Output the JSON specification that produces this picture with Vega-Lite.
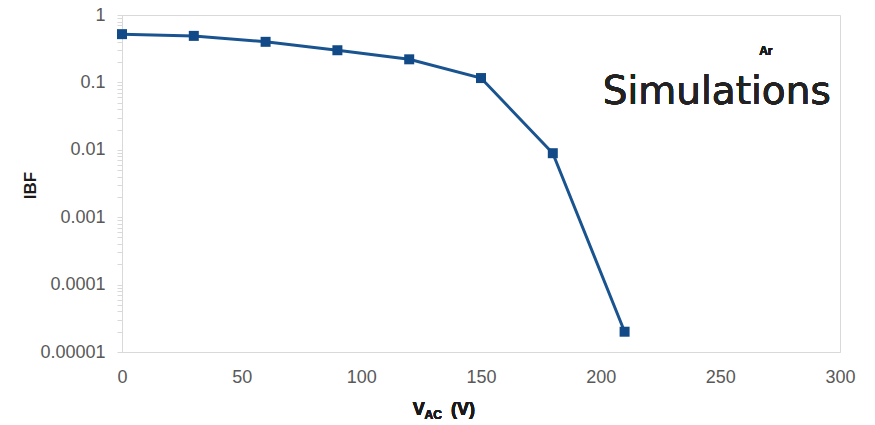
{
  "$schema": "https://vega.github.io/schema/vega-lite/v6.json",
  "width": 718,
  "height": 337,
  "autosize": "none",
  "padding": {"left": 122, "top": 15, "right": 35, "bottom": 73},
  "background": "white",
  "config": {
    "view": {"stroke": "#d9d9d9", "strokeWidth": 1},
    "font": "Liberation Sans"
  },
  "data": {
    "values": [
      {"V": 0, "IBF": 0.52},
      {"V": 30, "IBF": 0.49},
      {"V": 60, "IBF": 0.40},
      {"V": 90, "IBF": 0.30},
      {"V": 120, "IBF": 0.22},
      {"V": 150, "IBF": 0.116},
      {"V": 180, "IBF": 0.0089},
      {"V": 210, "IBF": 0.00002}
    ]
  },
  "encoding": {
    "x": {
      "field": "V", "type": "quantitative",
      "scale": {"domain": [0, 300], "nice": false},
      "axis": {
        "values": [0, 50, 100, 150, 200, 250, 300],
        "title": null, "grid": false, "ticks": false, "labelFlush": false,
        "domainColor": "#d9d9d9", "labelColor": "#595959",
        "labelFontSize": 18, "labelPadding": 16, "labelFont": "Liberation Sans"
      }
    },
    "y": {
      "field": "IBF", "type": "quantitative",
      "scale": {"type": "log", "domain": [0.00001, 1], "nice": false},
      "axis": {
        "values": [0.00001, 0.00002, 0.00003, 0.00004, 0.00005, 0.00006, 0.00007, 0.00008, 0.00009,
                   0.0001, 0.0002, 0.0003, 0.0004, 0.0005, 0.0006, 0.0007, 0.0008, 0.0009,
                   0.001, 0.002, 0.003, 0.004, 0.005, 0.006, 0.007, 0.008, 0.009,
                   0.01, 0.02, 0.03, 0.04, 0.05, 0.06, 0.07, 0.08, 0.09,
                   0.1, 0.2, 0.3, 0.4, 0.5, 0.6, 0.7, 0.8, 0.9, 1],
        "labelExpr": "indexof([1,0.1,0.01,0.001,0.0001,0.00001], datum.value) >= 0 ? format(datum.value, '.5~f') : ''",
        "labelOverlap": false, "labelFlush": false,
        "grid": false, "tickSize": 5, "tickColor": "#d9d9d9",
        "domainColor": "#d9d9d9", "labelColor": "#595959",
        "labelFontSize": 18, "labelPadding": 12, "labelFont": "Liberation Sans",
        "title": "IBF", "titleFontSize": 17, "titleFontWeight": "bold", "titleColor": "#1a1a1a",
        "titleX": -92, "titleY": 170, "titleAngle": -90, "titleAlign": "center", "titleBaseline": "middle"
      }
    }
  },
  "layer": [
    {
      "mark": {"type": "line", "color": "#1a5490", "strokeWidth": 3}
    },
    {
      "mark": {"type": "square", "color": "#124a88", "filled": true, "opacity": 1, "size": 100}
    },
    {
      "mark": {"type": "text", "text": "Simulations", "font": "DejaVu Sans", "fontSize": 39, "color": "#222222", "align": "center", "baseline": "alphabetic", "clip": false},
      "encoding": {"x": {"datum": 248.5}, "y": {"datum": 0.048}}
    },
    {
      "mark": {"type": "text", "text": "Ar", "fontSize": 12, "fontWeight": "bold", "color": "#1a1a1a", "align": "center", "baseline": "middle"},
      "encoding": {"x": {"datum": 269}, "y": {"datum": 0.29}}
    },
    {
      "mark": {"type": "text", "text": "V", "fontSize": 18, "fontWeight": "bold", "color": "#1a1a1a", "align": "center", "baseline": "middle", "clip": false},
      "encoding": {"x": {"datum": 124}, "y": {"datum": 0.00000138}}
    },
    {
      "mark": {"type": "text", "text": "AC", "fontSize": 12, "fontWeight": "bold", "color": "#1a1a1a", "align": "center", "baseline": "middle", "clip": false},
      "encoding": {"x": {"datum": 130}, "y": {"datum": 0.00000115}}
    },
    {
      "mark": {"type": "text", "text": "(V)", "fontSize": 18, "fontWeight": "bold", "color": "#1a1a1a", "align": "center", "baseline": "middle", "clip": false},
      "encoding": {"x": {"datum": 142.5}, "y": {"datum": 0.00000138}}
    }
  ]
}
